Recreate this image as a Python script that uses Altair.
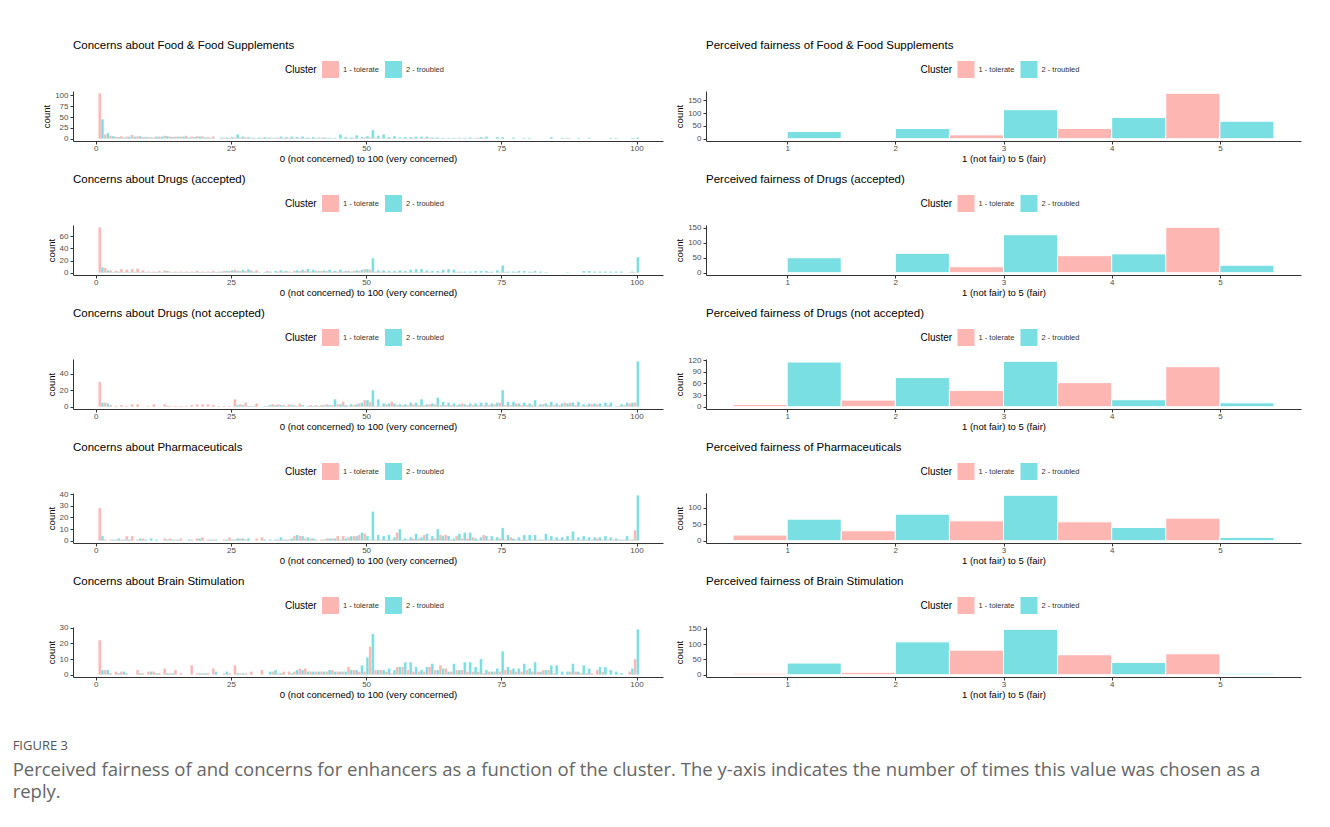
import altair as alt
import pandas as pd

# ---- data -------------------------------------------------------------
CLUSTERS = ["1 - tolerate", "2 - troubled"]
PINK = "#FDB6B2"
CYAN = "#7ADFE2"

CONCERN_VALUES = list(range(1, 101))
RATING_VALUES = [1, 2, 3, 4, 5]

# Concern ratings (0-100), counts per value for each cluster
food_concern_tolerate = [105, 10, 7, 5, 6, 5, 9, 6, 4, 4, 3, 5, 7, 5, 5, 5, 7, 5, 6, 6,
                         4, 5, 0, 2, 2, 3, 3, 3, 2, 1, 2, 2, 2, 2, 2, 2, 2, 2, 2, 1,
                         2, 2, 2, 1, 0, 1, 1, 2, 1, 3, 3, 2, 1, 1, 1, 1, 1, 1, 2, 1,
                         2, 2, 2, 1, 0, 1, 1, 1, 1, 1, 2, 2, 0, 0, 1, 0, 0, 0, 0, 0,
                         0, 0, 0, 0, 0, 0, 1, 1, 0, 0, 0, 0, 0, 0, 0, 0, 0, 0, 0, 1]
food_concern_troubled = [45, 13, 6, 4, 3, 5, 5, 6, 4, 3, 5, 5, 6, 4, 5, 5, 3, 4, 5, 3,
                         2, 0, 3, 3, 4, 10, 5, 4, 2, 3, 4, 3, 2, 5, 4, 5, 4, 5, 3, 4,
                         3, 3, 2, 2, 10, 4, 3, 8, 4, 6, 20, 7, 10, 4, 6, 3, 4, 4, 5, 5,
                         5, 3, 3, 2, 2, 2, 2, 2, 3, 2, 4, 5, 0, 4, 4, 0, 3, 0, 2, 2,
                         0, 0, 0, 4, 0, 2, 2, 0, 2, 0, 2, 0, 0, 0, 2, 2, 0, 0, 2, 3]

drugs_acc_concern_tolerate = [75, 8, 4, 3, 6, 5, 6, 7, 4, 2, 2, 3, 4, 2, 2, 2, 2, 2, 3, 2,
                              2, 3, 2, 3, 3, 5, 3, 3, 4, 4, 0, 3, 0, 2, 2, 2, 3, 3, 3, 2,
                              3, 3, 3, 2, 2, 2, 3, 3, 3, 6, 5, 2, 2, 1, 1, 1, 1, 1, 1, 1,
                              1, 1, 0, 1, 0, 0, 1, 1, 0, 0, 0, 0, 1, 0, 1, 1, 0, 1, 0, 0,
                              1, 0, 0, 0, 0, 0, 0, 0, 0, 0, 0, 0, 0, 0, 0, 0, 0, 0, 1, 1]
drugs_acc_concern_troubled = [9, 4, 1, 2, 1, 1, 1, 1, 1, 1, 1, 1, 3, 1, 1, 1, 1, 1, 1, 1,
                              1, 1, 2, 3, 4, 3, 5, 6, 2, 1, 1, 2, 3, 4, 3, 1, 4, 5, 6, 5,
                              3, 4, 5, 3, 5, 3, 2, 4, 5, 6, 24, 4, 4, 3, 3, 4, 3, 5, 6, 6,
                              4, 3, 3, 5, 6, 5, 2, 2, 2, 3, 3, 3, 2, 4, 12, 2, 2, 3, 3, 2,
                              3, 2, 1, 0, 0, 0, 1, 0, 0, 3, 3, 2, 2, 2, 2, 2, 2, 0, 2, 26]

drugs_not_concern_tolerate = [30, 5, 2, 1, 2, 1, 3, 3, 0, 1, 3, 0, 3, 1, 1, 1, 1, 2, 3, 3,
                              3, 2, 1, 1, 1, 9, 3, 5, 1, 4, 0, 1, 3, 3, 2, 3, 2, 4, 0, 2,
                              2, 2, 3, 2, 3, 6, 1, 2, 4, 8, 6, 1, 1, 3, 6, 2, 2, 2, 3, 2,
                              2, 3, 3, 2, 2, 2, 2, 4, 2, 2, 2, 2, 2, 3, 5, 2, 2, 4, 2, 2,
                              2, 1, 3, 2, 2, 2, 5, 5, 2, 1, 2, 3, 3, 1, 2, 0, 1, 2, 4, 5]
drugs_not_concern_troubled = [5, 4, 0, 0, 0, 0, 0, 0, 0, 0, 0, 0, 1, 0, 0, 0, 0, 0, 0, 0,
                              0, 0, 0, 0, 0, 2, 2, 1, 1, 0, 1, 2, 2, 2, 1, 2, 1, 2, 1, 1,
                              1, 2, 2, 9, 3, 2, 3, 3, 5, 8, 20, 9, 4, 4, 4, 3, 3, 5, 5, 9,
                              3, 4, 11, 6, 5, 4, 3, 3, 4, 4, 5, 5, 4, 5, 20, 6, 6, 4, 5, 4,
                              8, 3, 4, 6, 4, 4, 4, 5, 6, 3, 4, 4, 4, 5, 5, 1, 3, 5, 5, 55]

pharma_concern_tolerate = [28, 1, 1, 1, 1, 4, 4, 1, 2, 0, 0, 0, 2, 2, 1, 2, 0, 1, 2, 3,
                           1, 1, 0, 1, 3, 1, 2, 1, 0, 2, 3, 0, 0, 1, 1, 1, 4, 4, 2, 2,
                           1, 1, 2, 2, 4, 4, 3, 4, 5, 6, 1, 1, 1, 1, 1, 7, 1, 1, 2, 2,
                           5, 1, 2, 5, 5, 1, 4, 2, 2, 3, 1, 5, 1, 1, 2, 1, 3, 1, 1, 1,
                           1, 1, 1, 1, 1, 1, 1, 1, 1, 1, 1, 1, 2, 1, 1, 1, 1, 1, 1, 9]
pharma_concern_troubled = [4, 0, 1, 2, 1, 1, 0, 2, 1, 2, 1, 0, 1, 1, 1, 0, 1, 0, 2, 0,
                           1, 1, 0, 1, 1, 2, 2, 2, 0, 0, 1, 1, 1, 3, 1, 2, 5, 4, 3, 2,
                           0, 1, 2, 2, 1, 2, 4, 4, 7, 4, 25, 5, 4, 5, 3, 10, 2, 3, 6, 3,
                           6, 4, 10, 4, 4, 2, 6, 7, 7, 2, 3, 4, 4, 3, 11, 5, 2, 3, 5, 5,
                           5, 1, 6, 4, 3, 3, 4, 8, 3, 4, 3, 3, 3, 4, 3, 2, 1, 4, 1, 39]

brain_concern_tolerate = [22, 3, 1, 2, 2, 1, 0, 3, 1, 2, 2, 1, 4, 1, 3, 1, 0, 6, 1, 1,
                          1, 4, 0, 1, 1, 6, 1, 1, 2, 0, 3, 0, 2, 1, 2, 2, 2, 4, 4, 2,
                          2, 2, 2, 3, 2, 2, 5, 3, 2, 2, 18, 3, 3, 2, 1, 5, 5, 3, 2, 2,
                          2, 5, 3, 6, 4, 2, 3, 3, 2, 2, 2, 1, 2, 2, 2, 3, 3, 2, 2, 3,
                          2, 2, 3, 3, 1, 0, 0, 2, 2, 1, 1, 1, 3, 2, 0, 0, 0, 0, 2, 10]
brain_concern_troubled = [3, 3, 0, 1, 2, 0, 0, 1, 0, 2, 1, 0, 1, 1, 0, 0, 0, 0, 1, 1,
                          0, 2, 0, 2, 0, 1, 1, 0, 0, 0, 0, 2, 3, 1, 0, 1, 3, 3, 2, 2,
                          2, 2, 3, 2, 2, 2, 3, 3, 6, 11, 26, 3, 3, 4, 3, 5, 8, 8, 5, 3,
                          5, 7, 3, 4, 2, 7, 3, 8, 8, 5, 10, 3, 2, 4, 15, 5, 4, 4, 7, 4,
                          8, 2, 3, 6, 6, 2, 2, 7, 2, 6, 4, 0, 5, 5, 3, 2, 1, 0, 4, 29]

# Fairness ratings (1-5), counts per rating for each cluster
food_fair_tolerate = [0, 0, 15, 40, 177]
food_fair_troubled = [28, 40, 113, 83, 68]
drugs_acc_fair_tolerate = [0, 0, 20, 57, 152]
drugs_acc_fair_troubled = [50, 65, 127, 63, 25]
drugs_not_fair_tolerate = [6, 17, 42, 62, 103]
drugs_not_fair_troubled = [115, 75, 117, 18, 10]
pharma_fair_tolerate = [17, 30, 60, 57, 68]
pharma_fair_troubled = [65, 80, 137, 40, 10]
brain_fair_tolerate = [5, 8, 80, 65, 68]
brain_fair_troubled = [38, 107, 148, 40, 5]

ENHANCERS = ["Food & Food Supplements", "Drugs (accepted)", "Drugs (not accepted)",
             "Pharmaceuticals", "Brain Stimulation"]
CONCERN_SERIES = [
    (food_concern_tolerate, food_concern_troubled, [0, 25, 50, 75, 100]),
    (drugs_acc_concern_tolerate, drugs_acc_concern_troubled, [0, 20, 40, 60]),
    (drugs_not_concern_tolerate, drugs_not_concern_troubled, [0, 20, 40]),
    (pharma_concern_tolerate, pharma_concern_troubled, [0, 10, 20, 30, 40]),
    (brain_concern_tolerate, brain_concern_troubled, [0, 10, 20, 30]),
]
FAIR_SERIES = [
    (food_fair_tolerate, food_fair_troubled, [0, 50, 100, 150]),
    (drugs_acc_fair_tolerate, drugs_acc_fair_troubled, [0, 50, 100, 150]),
    (drugs_not_fair_tolerate, drugs_not_fair_troubled, [0, 30, 60, 90, 120]),
    (pharma_fair_tolerate, pharma_fair_troubled, [0, 50, 100]),
    (brain_fair_tolerate, brain_fair_troubled, [0, 50, 100, 150]),
]

CAPTION_LABEL = "FIGURE 3"
CAPTION_LINES = [
    "Perceived fairness of and concerns for enhancers as a function of the cluster. "
    "The y-axis indicates the number of times this value was chosen as a",
    "reply.",
]

FONT = "Liberation Sans"
PANEL_H = 50
LEFT_W = 590
RIGHT_W = 595


def dodged(values, tolerate, troubled):
    """One row per non-empty bin; the two clusters sit side by side in each bin."""
    rows = []
    for i, v in enumerate(values):
        for k, series in enumerate((tolerate, troubled)):
            c = series[i]
            if c > 0:
                rows.append({"value": v, "cluster": CLUSTERS[k], "count": c,
                             "lo": v - 0.5 + 0.5 * k, "hi": v + 0.5 * k})
    return pd.DataFrame(rows)


def panel(title, df, xdom, xticks, xtitle, yticks, width, stroke_w):
    ymax = float(df["count"].max())
    return alt.Chart(df).mark_rect(stroke="white", strokeWidth=stroke_w).encode(
        x=alt.X("lo:Q",
                scale=alt.Scale(domain=xdom, nice=False, zero=False),
                axis=alt.Axis(values=xticks, title=xtitle, format="d")),
        x2="hi:Q",
        y=alt.Y("count:Q",
                scale=alt.Scale(domain=[-0.05 * ymax, 1.05 * ymax], nice=False, zero=False),
                axis=alt.Axis(values=yticks, title="count", format="d")),
        y2=alt.datum(0),
        color=alt.Color("cluster:N",
                        scale=alt.Scale(domain=CLUSTERS, range=[PINK, CYAN]),
                        legend=alt.Legend(title="Cluster", orient="none",
                                          direction="horizontal",
                                          legendX=width / 2 - 83, legendY=-30,
                                          titleOrient="left")),
    ).properties(
        width=width, height=PANEL_H,
        title=alt.TitleParams(title, anchor="start", frame="group", offset=10),
    )


rows = []
for name, (ct, cr, cy), (ft, fr, fy) in zip(ENHANCERS, CONCERN_SERIES, FAIR_SERIES):
    left = panel(f"Concerns about {name}", dodged(CONCERN_VALUES, ct, cr),
                 [-4.2, 104.9], [0, 25, 50, 75, 100],
                 "0 (not concerned) to 100 (very concerned)", cy, LEFT_W, 0.2)
    right = panel(f"Perceived fairness of {name}", dodged(RATING_VALUES, ft, fr),
                  [0.25, 5.75], RATING_VALUES, "1 (not fair) to 5 (fair)", fy, RIGHT_W, 1)
    rows.append(alt.hconcat(left, right, spacing=11)
                .resolve_scale(color="independent")
                .resolve_legend(color="independent"))

chart = alt.vconcat(*rows, spacing=10).resolve_scale(
    color="independent").resolve_legend(color="independent").properties(
    title=alt.TitleParams(
        CAPTION_LABEL, subtitle=CAPTION_LINES, orient="bottom", anchor="start",
        frame="bounds", dx=-29, offset=41,
        font="Open Sans", fontSize=13, fontWeight="normal", color="#555555",
        subtitleFont="Open Sans", subtitleFontSize=18.5, subtitleColor="#666666",
        subtitleLineHeight=22.5, subtitlePadding=8,
    ),
    padding={"left": 12, "top": 39, "right": 5, "bottom": 5},
    background="white",
).configure_view(stroke=None).configure_axis(
    labelFont=FONT, titleFont=FONT, labelFontSize=8, titleFontSize=9.5,
    labelColor="#4D4D4D", titleColor="#000000", titleFontWeight="normal",
    domainColor="#333333", tickColor="#333333", domainWidth=1, tickWidth=1,
    tickSize=3, grid=False,
).configure_axisX(labelPadding=0, titlePadding=1).configure_axisY(
    labelPadding=2, titlePadding=3).configure_legend(
    titleFont=FONT, labelFont=FONT, titleFontSize=10, labelFontSize=7.5,
    titleFontWeight="normal", titleColor="#000000", labelColor="#333333",
    symbolType="square", symbolSize=289, symbolStrokeWidth=0, symbolOpacity=1,
    labelOffset=4, columnPadding=6, titlePadding=5,
).configure_title(
    font=FONT, fontSize=11.5, fontWeight="normal", color="#000000",
)

chart.save("out.html", embed_options={"renderer": "svg", "actions": False})
